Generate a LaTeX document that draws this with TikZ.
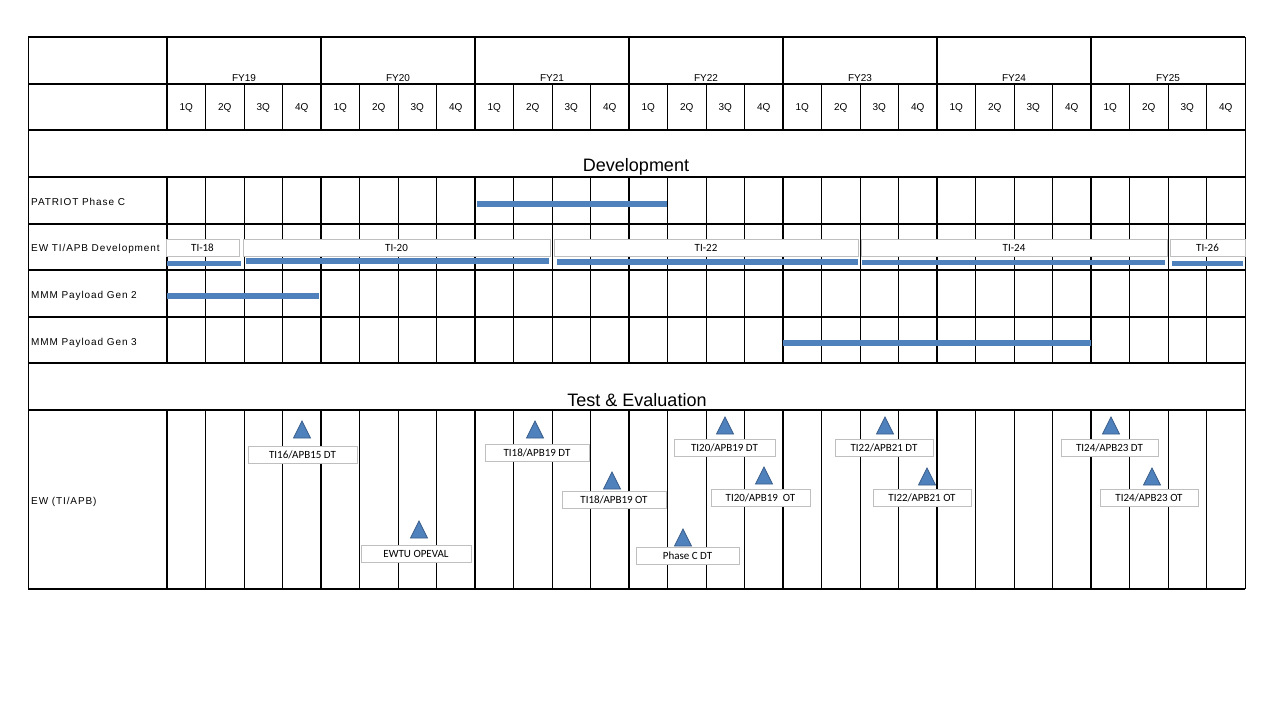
\documentclass[tikz,border=0pt]{standalone}
\usepackage{fontspec}
\setmainfont{Liberation Sans}
\newfontfamily\boxfont{Carlito}
\newfontfamily\rowfont[LetterSpace=9]{Liberation Sans}
\usepackage{xcolor}
\usetikzlibrary{positioning}
\definecolor{barblue}{RGB}{79,129,189}
\definecolor{triedge}{RGB}{56,93,138}
\definecolor{boxgray}{RGB}{191,191,191}

\begin{document}
\begin{tikzpicture}[x=1pt, y=-1pt,
  every node/.style={font=\fontsize{10}{12}\selectfont, inner sep=0pt},
  hline/.style={line width=1.2pt},
  qline/.style={line width=1pt},
  yline/.style={line width=2.2pt},
  rowlabel/.style={anchor=west, font=\rowfont\fontsize{10}{12}\selectfont},
  heading/.style={font=\fontsize{18}{21}\selectfont},
  bar/.style={barblue, line width=5.5pt},
  tibox/.style={draw=boxgray, fill=white, line width=1pt, minimum height=17pt,
    font=\boxfont\fontsize{11}{13}\selectfont},
  mstone/.pic={\filldraw[fill=barblue, draw=triedge, line width=0.8pt]
    (-8.5,0) -- (8.5,0) -- (0,-17) -- cycle;}]
  \useasboundingbox (0,0) rectangle (1280,720);

  % grid
  \foreach \y in {37,84,130,177,224,270,317,363,410,589}
    \draw[hline] (28,\y) -- (1245,\y);
  \draw[qline] (28,37) -- (28,589);
  \draw[qline] (1245,37) -- (1245,589);
  \foreach \ya/\yb in {84/130,177/363,410/589}
    \foreach \q in {1,2,3,5,6,7,9,10,11,13,14,15,17,18,19,21,22,23,25,26,27}
      \draw[qline] ({167+38.5*\q},\ya) -- ({167+38.5*\q},\yb);
  \foreach \ya/\yb in {37/130,177/363,410/589}
    \foreach \k in {0,...,6}
      \draw[yline] ({167+154*\k},\ya) -- ({167+154*\k},\yb);

  % fiscal years and quarters
  \foreach \fy [count=\i from 0] in {19,...,25} {
    \node (fy\fy) at ({244+154*\i},78.5) {FY\fy};
    \foreach \q in {1,...,4}
      \node (q\fy-\q) at ({167+154*\i+38.5*(\q-0.5)},107.5) {\q Q};
  }

  \node[heading] (dev) at (636,167) {Development};
  \node[heading] (te) at (637,400) {Test \& Evaluation};

  % row labels
  \node[rowlabel] (patriot) at (31,202) {PATRIOT Phase C};
  \node[rowlabel] (ewdev) at (31,249) {EW TI/APB Development};
  \node[rowlabel] (gen2) at (31,296) {MMM Payload Gen 2};
  \node[rowlabel] (gen3) at (31,343) {MMM Payload Gen 3};
  \node[rowlabel] (ewte) at (31,502) {EW (TI/APB)};

  % development bars
  \draw[bar] (477,204) -- (667,204);
  \draw[bar] (167,263.5) -- (241,263.5);
  \draw[bar] (246,261) -- (549,261);
  \draw[bar] (557,262) -- (858,262);
  \draw[bar] (862,262.5) -- (1165,262.5);
  \draw[bar] (1172,263.5) -- (1243,263.5);
  \draw[bar] (167,296) -- (319,296);
  \draw[bar] (783,343) -- (1091,343);

  \node[tibox, minimum width=73] (ti18) at (202.5,247.5) {TI-18};
  \node[tibox, minimum width=307] (ti20) at (396.5,247.5) {TI-20};
  \node[tibox, minimum width=304] (ti22) at (706,247.5) {TI-22};
  \node[tibox, minimum width=306] (ti24) at (1014,247.5) {TI-24};
  \node[tibox, minimum width=75] (ti26) at (1207.5,247.5) {TI-26};

  % test events
  \pic (m1) at (302,438) {mstone};
  \node[tibox, minimum width=109] (ti16dt) at (302.5,455) {TI16/APB15 DT};
  \pic (m2) at (419,538) {mstone};
  \node[tibox, minimum width=110] (ewtu) at (416,553.5) {EWTU OPEVAL};
  \pic (m3) at (535,438) {mstone};
  \node[tibox, minimum width=104] (ti18dt) at (537,452.5) {TI18/APB19 DT};
  \pic (m4) at (612,489) {mstone};
  \node[tibox, minimum width=104] (ti18ot) at (614,499.5) {TI18/APB19 OT};
  \pic (m5) at (683,546) {mstone};
  \node[tibox, minimum width=103] (phcdt) at (687.5,555.5) {Phase C DT};
  \pic (m6) at (725,434) {mstone};
  \node[tibox, minimum width=101] (ti20dt) at (724.5,448) {TI20/APB19 DT};
  \pic (m7) at (764,484) {mstone};
  \node[tibox, minimum width=99] (ti20ot) at (760.5,497.5) {TI20/APB19\ \ OT};
  \pic (m8) at (885,434) {mstone};
  \node[tibox, minimum width=98] (ti22dt) at (884,448) {TI22/APB21 DT};
  \pic (m9) at (927,485) {mstone};
  \node[tibox, minimum width=98] (ti22ot) at (922,498) {TI22/APB21 OT};
  \pic (m10) at (1111,434) {mstone};
  \node[tibox, minimum width=97] (ti24dt) at (1109.5,448) {TI24/APB23 DT};
  \pic (m11) at (1152,485) {mstone};
  \node[tibox, minimum width=98] (ti24ot) at (1149,498) {TI24/APB23 OT};
\end{tikzpicture}
\end{document}
